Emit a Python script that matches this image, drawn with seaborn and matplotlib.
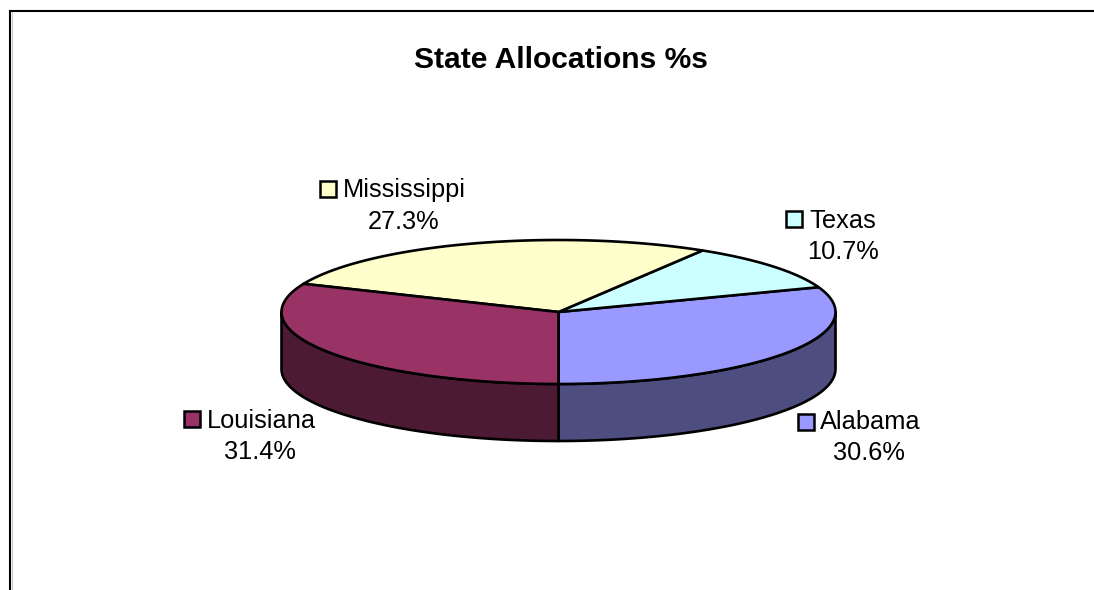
import numpy as np
import matplotlib
matplotlib.use("Agg")
import matplotlib.pyplot as plt
from matplotlib.patches import Rectangle
import seaborn as sns

states = ["Alabama", "Texas", "Mississippi", "Louisiana"]
shares = [30.6, 10.7, 27.3, 31.4]
labels = ["30.6%", "10.7%", "27.3%", "31.4%"]
top_colors = ["#9999FF", "#CCFFFF", "#FFFFCC", "#993366"]
side_colors = ["#4D4D80", "#668080", "#808066", "#4D1A33"]
title = "State Allocations %s"

sns.set_theme(style="white")
plt.rcParams["font.family"] = ["Liberation Sans", "DejaVu Sans"]

fig = plt.figure(figsize=(10.94, 5.90), dpi=100, facecolor="white")
ax = fig.add_axes([0, 0, 1, 1])
ax.set_xlim(0, 1094)
ax.set_ylim(590, 0)
ax.axis("off")

cx, cy, rx, ry, depth = 558.5, 312, 277, 72, 57
LW = 1.9

def xy(deg):
    t = np.radians(deg)
    return cx + rx * np.cos(t), cy - ry * np.sin(t)

# slices run counter-clockwise from the bottom of the pie in shares order
bounds = -90 + np.concatenate([[0], np.cumsum(shares)]) * 360 / sum(shares)

# walls: the visible lower half of the rim
for a0, a1, col in zip(bounds[:-1], bounds[1:], side_colors):
    for lo, hi in [(a0, min(a1, 0)), (max(a0, 180), a1)]:
        if hi <= lo:
            continue
        t = np.linspace(lo, hi, 120)
        x, y = xy(t)
        ax.fill(np.r_[x, x[::-1]], np.r_[y, y[::-1] + depth], fc=col, ec="black",
                lw=LW, joinstyle="round", zorder=2)

# top faces
for a0, a1, col in zip(bounds[:-1], bounds[1:], top_colors):
    t = np.linspace(a0, a1, 200)
    x, y = xy(t)
    ax.fill(np.r_[cx, x], np.r_[cy, y], fc=col, ec="black", lw=LW,
            joinstyle="round", zorder=3)

# chart frame: top and left edges only
ax.plot([9, 1094], [10.5, 10.5], color="black", lw=1.5, zorder=1, solid_capstyle="butt")
ax.plot([10, 10], [10, 590], color="black", lw=1.5, zorder=1, solid_capstyle="butt")
ax.plot([11.6, 11.6], [12, 590], color="#C8C8C8", lw=0.8, zorder=1)

ax.text(560.5, 60, title, ha="center", va="center", fontsize=21.6,
        fontweight="bold", color="black")

# key left/top, name left, name y, pct centre x, pct y
label_layout = [
    (797.5, 413.5, 820, 422, 869, 453),
    (786, 211, 809, 221, 843, 252),
    (320, 181, 343, 190.5, 404, 222),
    (184, 411, 207, 421.5, 260, 452),
]
for name, pct, col, (kx, ky, nx, ny, px, py) in zip(states, labels, top_colors, label_layout):
    ax.add_patch(Rectangle((kx, ky), 16, 16, fc=col, ec="black", lw=1.8, zorder=4))
    ax.text(nx, ny, name, ha="left", va="center", fontsize=18.3, color="black")
    ax.text(px, py, pct, ha="center", va="center", fontsize=18.3, color="black")

fig.savefig("out.png", dpi=100)
